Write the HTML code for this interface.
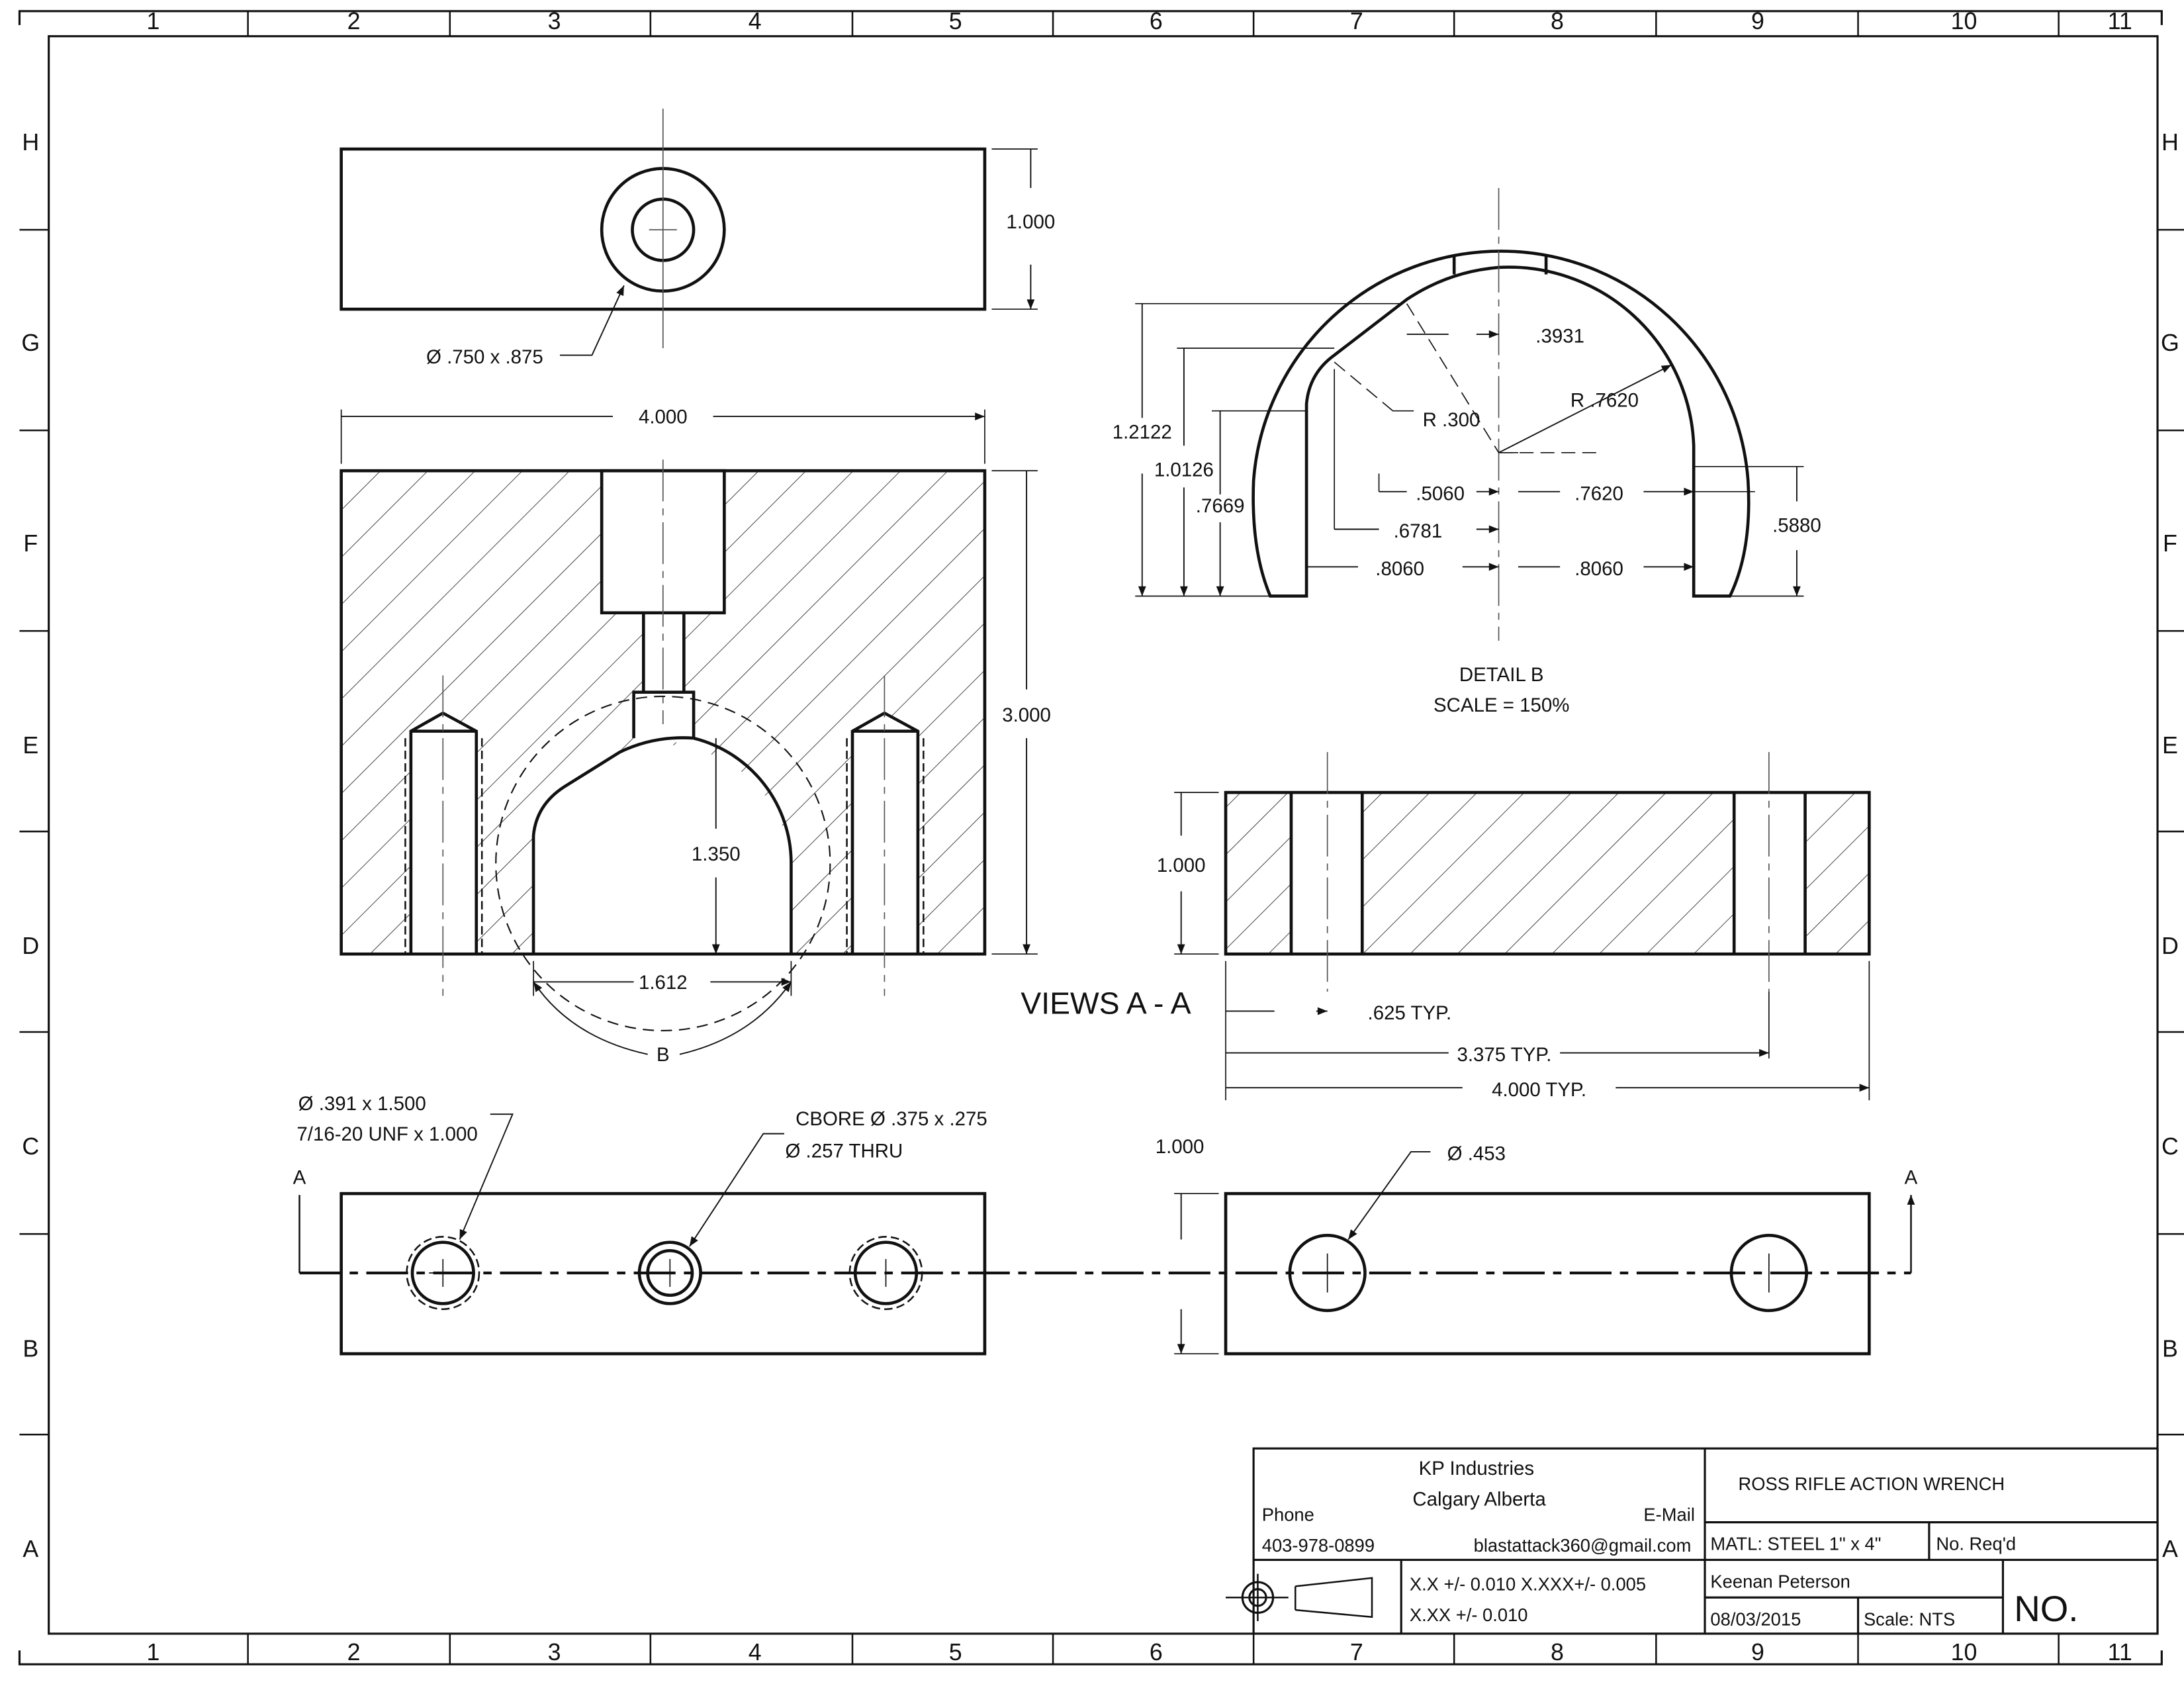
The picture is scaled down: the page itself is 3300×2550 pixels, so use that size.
<!DOCTYPE html>
<html><head><meta charset="utf-8"><style>
html,body{margin:0;padding:0;background:#fff}
svg{display:block}
text{font-family:"Liberation Sans",sans-serif;fill:#111}
</style></head><body>
<svg width="3300" height="2550" viewBox="0 0 1568 1212" preserveAspectRatio="none" xmlns="http://www.w3.org/2000/svg">
<defs>
<pattern id="h" patternUnits="userSpaceOnUse" width="24" height="24" patternTransform="rotate(45)">
<line x1="0" y1="0" x2="0" y2="24" stroke="#222" stroke-width="0.8"/>
</pattern>
<marker id="a" viewBox="0 0 10 10" refX="10" refY="5" markerWidth="9" markerHeight="7" orient="auto-start-reverse" markerUnits="userSpaceOnUse"><path d="M0,1 L10,5 L0,9 z" fill="#111"/></marker>
</defs>
<g fill="none" stroke="#111">
<path d="M14,18 V8 H1552 V18 M14,1185 V1195 H1552 V1185" stroke-width="1.5"/>
<rect x="35" y="26" width="1514" height="1147" stroke-width="1.5"/>
<g stroke-width="1.2">
<path d="M178,8V26 M323,8V26 M467,8V26 M612,8V26 M756,8V26 M900,8V26 M1044,8V26 M1189,8V26 M1334,8V26 M1478,8V26"/>
<path d="M178,1173V1195 M323,1173V1195 M467,1173V1195 M612,1173V1195 M756,1173V1195 M900,1173V1195 M1044,1173V1195 M1189,1173V1195 M1334,1173V1195 M1478,1173V1195"/>
<path d="M14,165H35 M14,309H35 M14,453H35 M14,597H35 M14,741H35 M14,886H35 M14,1030H35"/>
<path d="M1549,165H1568 M1549,309H1568 M1549,453H1568 M1549,597H1568 M1549,741H1568 M1549,886H1568 M1549,1030H1568"/>
</g>

<rect x="245" y="107" width="462" height="115" stroke-width="2.2"/>
<circle cx="476" cy="165" r="44" stroke-width="2.2"/>
<circle cx="476" cy="165" r="22" stroke-width="2.2"/>
<path d="M476,78V250 M466,165H486" stroke-width="0.8" stroke="#555"/>
<path d="M712,107H745 M712,222H745" stroke-width="0.8"/>
<path d="M740,135V107 M740,190V222" stroke-width="0.9" marker-end="url(#a)"/>
<path d="M402,255H425L448,205" stroke-width="0.9" marker-end="url(#a)"/>

<rect x="245" y="338" width="462" height="347" fill="url(#h)" stroke="none"/>
<g fill="#fff" stroke="none">
<rect x="432" y="338" width="88" height="102"/>
<rect x="462" y="440" width="29" height="60"/>
<rect x="455" y="497" width="43" height="36"/>
<path d="M383,685 L383,600 Q385,578 405,565 L445,540 A92.5,92.5 0 0 1 568,620 L568,685Z"/>
<path d="M295,685V525L318,512L342,525V685Z"/>
<path d="M612,685V525L635,512L659,525V685Z"/>
</g>
<g stroke-width="2.2">
<rect x="245" y="338" width="462" height="347"/>
<rect x="432" y="338" width="88" height="102"/>
<path d="M462,440V497 M491,440V497"/>
<path d="M455,530V497H498V530"/>
<path d="M383,685 L383,600 Q385,578 405,565 L445,540 Q470,528 498,530 A92.5,92.5 0 0 1 568,620 L568,685"/>
<path d="M295,685V525L318,512L342,525V685 M295,525H342"/>
<path d="M612,685V525L635,512L659,525V685 M612,525H659"/>
</g>
<path d="M291,530V685 M346,530V685 M608,530V685 M663,530V685" stroke-width="1.2" stroke-dasharray="6,3"/>
<path d="M476,330V520 M318,485V715 M635,485V715" stroke-width="0.8" stroke="#555" stroke-dasharray="30,5,5,5"/>
<circle cx="476" cy="620" r="120" stroke-width="1" stroke-dasharray="8,5"/>
<path d="M245,294V333 M707,294V333" stroke-width="0.8"/>
<path d="M440,299H245 M512,299H707" stroke-width="0.9" marker-end="url(#a)"/>
<path d="M712,338H745 M712,685H745" stroke-width="0.8"/>
<path d="M737,495V338 M737,530V685" stroke-width="0.9" marker-end="url(#a)"/>
<path d="M514,595V530 M514,630V685" stroke-width="0.9" marker-end="url(#a)"/>
<path d="M383,690V715 M568,690V715" stroke-width="0.8"/>
<path d="M455,705H383 M510,705H568" stroke-width="0.9" marker-end="url(#a)"/>
<path d="M465,757 Q410,745 383,705" stroke-width="0.9" marker-end="url(#a)"/>
<path d="M488,757 Q540,745 568,705" stroke-width="0.9" marker-end="url(#a)"/>

<path d="M938,428 L938,290 Q940,268 958,255 L1010,215 Q1040,195 1076,192 A133,133 0 0 1 1216,320 L1216,428 L1242,428 Q1258,395 1255,345 A178,178 0 0 0 900,345 Q898,395 912,428 Z" stroke-width="2.2" fill="#fff"/>
<path d="M1044,183V197 M1110,183V197" stroke-width="2.2"/>
<path d="M1076,135V460" stroke-width="0.8" stroke="#555" stroke-dasharray="30,5,5,5"/>
<path d="M1010,218L1076,325 M1076,325H1150 M958,260 L1000,295" stroke-width="0.8" stroke-dasharray="10,5"/>
<path d="M1076,325L1200,262" stroke-width="0.9" marker-end="url(#a)"/>
<path d="M1000,295H1015 M1076,325H1090" stroke-width="0.8"/>
<path d="M1006,218H815 M958,250H845 M938,295H870 M912,428H815" stroke-width="0.8"/>
<path d="M820,300V218 M820,340V428" stroke-width="0.9" marker-end="url(#a)"/>
<path d="M850,320V250 M850,350V428" stroke-width="0.9" marker-end="url(#a)"/>
<path d="M876,355V295 M876,375V428" stroke-width="0.9" marker-end="url(#a)"/>
<path d="M1040,240H1010 M1060,240H1076" stroke-width="0.9" marker-end="url(#a)"/>
<path d="M990,353V340 M958,380V265 M1216,353H1260 M1216,428H1295 M1216,335H1295" stroke-width="0.8"/>
<path d="M1010,353H990 M1060,353H1076" stroke-width="0.9" marker-end="url(#a)"/>
<path d="M990,380H958 M1060,380H1076" stroke-width="0.9" marker-end="url(#a)"/>
<path d="M1120,353H1090 M1180,353H1216" stroke-width="0.9" marker-end="url(#a)"/>
<path d="M975,407H938 M1050,407H1076" stroke-width="0.9" marker-end="url(#a)"/>
<path d="M1120,407H1090 M1180,407H1216" stroke-width="0.9" marker-end="url(#a)"/>
<path d="M1290,360V335 M1290,395V428" stroke-width="0.9" marker-end="url(#a)"/>

<rect x="880" y="569" width="462" height="116" fill="url(#h)" stroke="none"/>
<rect x="927" y="569" width="51" height="116" fill="#fff" stroke="none"/>
<rect x="1245" y="569" width="51" height="116" fill="#fff" stroke="none"/>
<g stroke-width="2.2">
<rect x="880" y="569" width="462" height="116"/>
<path d="M927,569V685 M978,569V685 M1245,569V685 M1296,569V685"/>
</g>
<path d="M953,540V712 M1270,540V712" stroke-width="0.8" stroke="#555" stroke-dasharray="30,5,5,5"/>
<path d="M843,569H875 M843,685H875" stroke-width="0.8"/>
<path d="M848,600V569 M848,640V685" stroke-width="0.9" marker-end="url(#a)"/>
<path d="M880,690V790 M1342,690V790 M1270,712V760" stroke-width="0.8"/>
<path d="M915,726H880 M945,726H953" stroke-width="0.9" marker-end="url(#a)"/>
<path d="M1040,756H880 M1120,756H1270" stroke-width="0.9" marker-end="url(#a)"/>
<path d="M1050,781H880 M1160,781H1342" stroke-width="0.9" marker-end="url(#a)"/>

<rect x="245" y="857" width="462" height="115" stroke-width="2.2"/>
<rect x="880" y="857" width="462" height="115" stroke-width="2.2"/>
<path d="M215,914H1372" stroke-width="2" stroke-dasharray="30,6,6,6"/>
<g stroke-width="2.2">
<circle cx="318" cy="914" r="22"/><circle cx="481" cy="914" r="22"/><circle cx="481" cy="914" r="16"/>
<circle cx="636" cy="914" r="22"/><circle cx="953" cy="914" r="27"/><circle cx="1270" cy="914" r="27"/>
</g>
<circle cx="318" cy="914" r="26" stroke-width="1.2" stroke-dasharray="6,3"/>
<circle cx="636" cy="914" r="26" stroke-width="1.2" stroke-dasharray="6,3"/>
<path d="M318,904V924 M308,914H328 M481,904V924 M636,904V924 M953,900V928 M1270,900V928" stroke-width="0.8"/>
<path d="M215,914V858 M1372,914V858" stroke-width="1.2" marker-end="url(#a)"/>
<path d="M352,800H368L330,890" stroke-width="0.9" marker-end="url(#a)"/>
<path d="M563,814H548L495,895" stroke-width="0.9" marker-end="url(#a)"/>
<path d="M1027,827H1013L968,890" stroke-width="0.9" marker-end="url(#a)"/>
<path d="M843,857H875 M843,972H875" stroke-width="0.8"/>
<path d="M848,890V857 M848,940V972" stroke-width="0.9" marker-end="url(#a)"/>

<g stroke-width="1.5">
<rect x="900" y="1040" width="649" height="133"/>
<path d="M1224,1040V1173 M1224,1093H1549 M900,1120H1549 M1385,1093V1120 M1224,1147H1438 M1438,1120V1173 M1334,1147V1173 M1006,1120V1173"/>
<circle cx="903" cy="1147" r="11"/><circle cx="903" cy="1147" r="6"/>
<path d="M880,1147H925 M903,1130V1164 M930,1139V1156 M930,1139L985,1133V1161L930,1156" stroke-width="1.2"/>
</g>
</g>

<g font-size="17" text-anchor="middle">
<text x="110" y="21">1</text><text x="254" y="21">2</text><text x="398" y="21">3</text><text x="542" y="21">4</text><text x="686" y="21">5</text><text x="830" y="21">6</text><text x="974" y="21">7</text><text x="1118" y="21">8</text><text x="1262" y="21">9</text><text x="1410" y="21">10</text><text x="1522" y="21">11</text>
<text x="110" y="1192">1</text><text x="254" y="1192">2</text><text x="398" y="1192">3</text><text x="542" y="1192">4</text><text x="686" y="1192">5</text><text x="830" y="1192">6</text><text x="974" y="1192">7</text><text x="1118" y="1192">8</text><text x="1262" y="1192">9</text><text x="1410" y="1192">10</text><text x="1522" y="1192">11</text>
<g><text x="22" y="108">H</text><text x="22" y="252">G</text><text x="22" y="396">F</text><text x="22" y="541">E</text><text x="22" y="685">D</text><text x="22" y="829">C</text><text x="22" y="974">B</text><text x="22" y="1118">A</text></g>
<g><text x="1558" y="108">H</text><text x="1558" y="252">G</text><text x="1558" y="396">F</text><text x="1558" y="541">E</text><text x="1558" y="685">D</text><text x="1558" y="829">C</text><text x="1558" y="974">B</text><text x="1558" y="1118">A</text></g>
</g>
<g font-size="14" text-anchor="middle">
<text x="740" y="164">1.000</text>
<text x="348" y="261">Ø .750 x .875</text>
<text x="476" y="304">4.000</text>
<text x="737" y="518">3.000</text>
<text x="514" y="618">1.350</text>
<text x="476" y="710">1.612</text>
<text x="476" y="762">B</text>
<text x="1120" y="246">.3931</text>
<text x="1042" y="306">R .300</text>
<text x="1152" y="292">R .7620</text>
<text x="820" y="315">1.2122</text>
<text x="850" y="342">1.0126</text>
<text x="876" y="368">.7669</text>
<text x="1034" y="359">.5060</text>
<text x="1018" y="386">.6781</text>
<text x="1148" y="359">.7620</text>
<text x="1005" y="413">.8060</text>
<text x="1148" y="413">.8060</text>
<text x="1290" y="382">.5880</text>
<text x="1078" y="489">DETAIL B</text>
<text x="1078" y="511">SCALE = 150%</text>
<text x="848" y="626">1.000</text>
<text x="794" y="728" font-size="22">VIEWS A - A</text>
<text x="1012" y="732">.625 TYP.</text>
<text x="1080" y="762">3.375 TYP.</text>
<text x="1105" y="787">4.000 TYP.</text>
<text x="260" y="797">Ø .391 x 1.500</text>
<text x="278" y="819">7/16-20 UNF x 1.000</text>
<text x="640" y="808">CBORE Ø .375 x .275</text>
<text x="606" y="831">Ø .257 THRU</text>
<text x="1060" y="833">Ø .453</text>
<text x="847" y="828">1.000</text>
<text x="215" y="850">A</text><text x="1372" y="850">A</text>
<text x="1060" y="1059">KP Industries</text>
<text x="1062" y="1081">Calgary Alberta</text>
</g>
<g font-size="13">
<text x="906" y="1092">Phone</text>
<text x="906" y="1114">403-978-0899</text>
<text x="1180" y="1092">E-Mail</text>
<text x="1058" y="1114">blastattack360@gmail.com</text>
<text x="1248" y="1070">ROSS RIFLE ACTION WRENCH</text>
<text x="1228" y="1113">MATL: STEEL 1" x 4"</text>
<text x="1390" y="1113">No. Req'd</text>
<text x="1012" y="1142">X.X +/- 0.010   X.XXX+/- 0.005</text>
<text x="1012" y="1164">X.XX +/- 0.010</text>
<text x="1228" y="1140">Keenan Peterson</text>
<text x="1228" y="1167">08/03/2015</text>
<text x="1338" y="1167">Scale: NTS</text>
<text x="1446" y="1164" font-size="26">NO.</text>
</g>
</svg>
</body></html>
